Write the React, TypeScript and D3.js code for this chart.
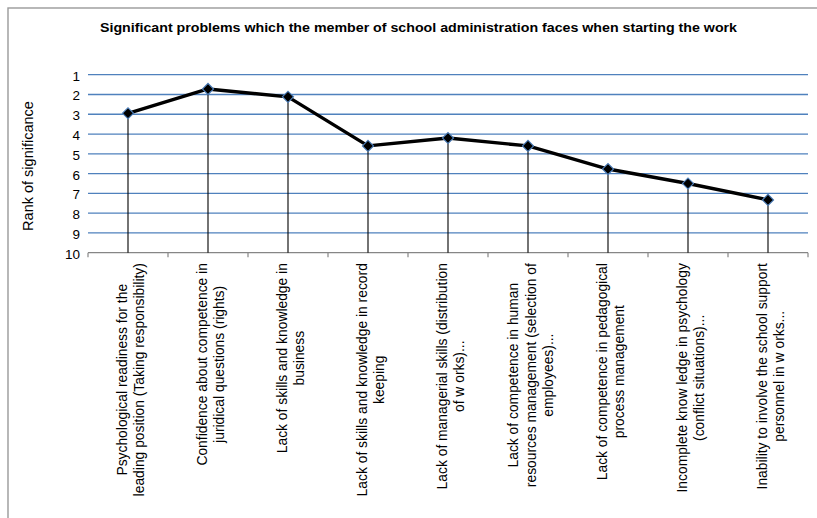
import React, { useEffect, useRef } from "react";
import * as d3 from "d3";

const title = "Significant problems which the member of school administration faces when starting the work";
const yTitle = "Rank of significance";
const categoryLabels: string[][] = [
  ["Psychological readiness for the", "leading position (Taking responsibility)"],
  ["Confidence about competence in", "juridical questions (rights)"],
  ["Lack of skills and knowledge in", "business"],
  ["Lack of skills and knowledge in record", "keeping"],
  ["Lack of managerial skills (distribution", "of w orks)..."],
  ["Lack of competence in human", "resources management (selection of", "employees)..."],
  ["Lack of competence in pedagogical", "process management"],
  ["Incomplete know ledge in psychology", "(conflict situations)..."],
  ["Inability to involve the school support", "personnel in w orks..."],
];
const rankValues = [2.95, 1.72, 2.12, 4.6, 4.2, 4.6, 5.77, 6.5, 7.33];
const yTicks = [1, 2, 3, 4, 5, 6, 7, 8, 9, 10];

const W = 817;
const H = 518;

export default function App() {
  const ref = useRef<SVGSVGElement | null>(null);

  useEffect(() => {
    const svg = d3.select(ref.current);
    svg.selectAll("*").remove();
    const font = "'Liberation Sans', Arial, sans-serif";

    const idx = categoryLabels.map((_, i) => String(i));
    const x = d3.scaleBand<string>().domain(idx).range([88, 808]).padding(0);
    const y = d3.scaleLinear().domain([1, 10]).range([74.7, 252.7]);

    // outer frame
    svg.append("rect")
      .attr("x", 8).attr("y", 8).attr("width", W + 20).attr("height", H + 20)
      .attr("fill", "#fff").attr("stroke", "#9a9a9a").attr("stroke-width", 1.4);

    // title
    svg.append("text")
      .attr("x", 418.5).attr("y", 32)
      .attr("text-anchor", "middle")
      .attr("font-family", font).attr("font-weight", "bold").attr("font-size", 13.2)
      .attr("textLength", 637).attr("lengthAdjust", "spacingAndGlyphs")
      .attr("fill", "#000")
      .text(title);

    // gridlines
    svg.append("g").selectAll("line")
      .data(yTicks.filter((t) => t < 10))
      .join("line")
      .attr("x1", 88).attr("x2", 808)
      .attr("y1", (d) => y(d)).attr("y2", (d) => y(d))
      .attr("stroke", "#4f81bd").attr("stroke-width", 1.3);

    // y tick labels
    svg.append("g").selectAll("text")
      .data(yTicks)
      .join("text")
      .attr("x", 80).attr("y", (d) => y(d) + 6)
      .attr("text-anchor", "end")
      .attr("font-family", font).attr("font-size", 13.5)
      .attr("fill", "#000")
      .text((d) => String(d));

    // y axis title
    svg.append("text")
      .attr("transform", `translate(32.5,166) rotate(-90)`)
      .attr("text-anchor", "middle")
      .attr("font-family", font).attr("font-size", 14.5)
      .attr("fill", "#000")
      .text(yTitle);

    // x axis line and ticks
    const axisY = y(10);
    svg.append("line")
      .attr("x1", 88).attr("x2", 808).attr("y1", axisY).attr("y2", axisY)
      .attr("stroke", "#868686").attr("stroke-width", 1.2);
    const bounds = idx.map((d) => x(d) as number).concat([808]);
    svg.append("g").selectAll("line")
      .data(bounds)
      .join("line")
      .attr("x1", (d) => d).attr("x2", (d) => d)
      .attr("y1", axisY).attr("y2", axisY + 4.5)
      .attr("stroke", "#868686").attr("stroke-width", 1.2);

    const cx = (i: number) => (x(String(i)) as number) + x.bandwidth() / 2;

    // drop lines
    svg.append("g").selectAll("line")
      .data(rankValues)
      .join("line")
      .attr("x1", (_, i) => cx(i)).attr("x2", (_, i) => cx(i))
      .attr("y1", (d) => y(d)).attr("y2", axisY)
      .attr("stroke", "#000").attr("stroke-width", 1.1);

    // series line
    const line = d3.line<number>().x((_, i) => cx(i)).y((d) => y(d));
    svg.append("path")
      .attr("d", line(rankValues) as string)
      .attr("fill", "none").attr("stroke", "#000").attr("stroke-width", 3.4)
      .attr("stroke-linejoin", "round");

    // markers
    const sym = d3.symbol().type(d3.symbolSquare).size(62);
    svg.append("g").selectAll("path")
      .data(rankValues)
      .join("path")
      .attr("d", sym() as string)
      .attr("transform", (d, i) => `translate(${cx(i)},${y(d)}) rotate(45)`)
      .attr("fill", "#000").attr("stroke", "#4f81bd").attr("stroke-width", 1.1);

    // x category labels
    const fs = 14.6;
    const sx = 0.95;
    const lh = 17.2;
    const topY = 263;
    categoryLabels.forEach((lines, i) => {
      const g = svg.append("g");
      const texts = g.selectAll("text")
        .data(lines)
        .join("text")
        .attr("x", 0)
        .attr("y", (_, j) => (j - (lines.length - 1) / 2) * lh + fs * 0.35)
        .attr("text-anchor", "middle")
        .attr("font-family", font).attr("font-size", fs)
        .attr("fill", "#000")
        .text((d) => d);
      let maxLen = 0;
      texts.each(function () {
        const l = (this as SVGTextElement).getComputedTextLength();
        if (l > maxLen) maxLen = l;
      });
      g.attr(
        "transform",
        `translate(${cx(i) + 2.5},${topY + (maxLen * sx) / 2}) rotate(-90) scale(${sx},1)`
      );
    });
  }, []);

  return (
    <svg
      ref={ref}
      width={W}
      height={H}
      style={{ position: "absolute", left: 0, top: 0, background: "#fff" }}
    />
  );
}
